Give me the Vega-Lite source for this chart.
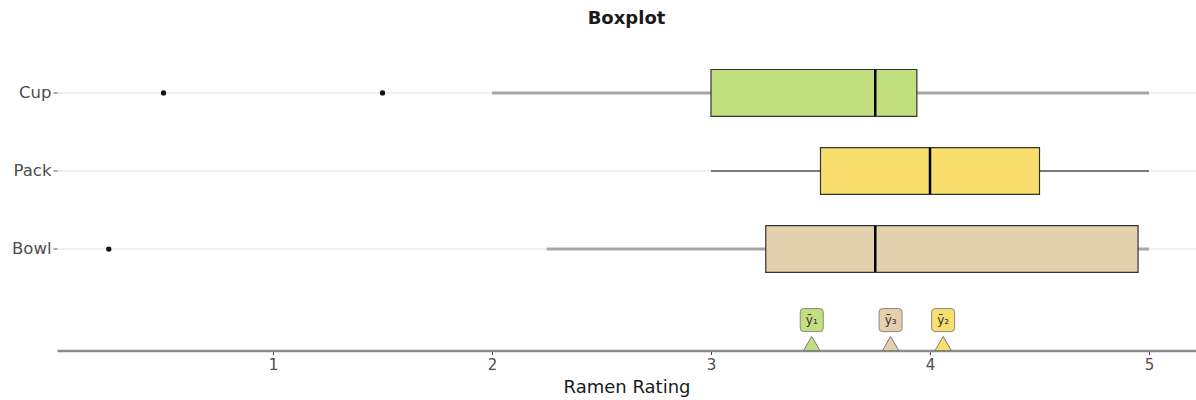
{
  "$schema": "https://vega.github.io/schema/vega-lite/v6.json",
  "width": 1139,
  "height": 281,
  "autosize": {"type": "none"},
  "padding": {"left": 57, "right": 0, "top": 69.5, "bottom": 49.5},
  "background": "white",
  "config": {
    "font": "DejaVu Sans",
    "view": {"stroke": null},
    "axis": {"labelFont": "DejaVu Sans", "titleFont": "DejaVu Sans"}
  },
  "title": {"text": "Boxplot", "font": "DejaVu Sans", "fontSize": 18, "fontWeight": "bold", "color": "#1a1a1a", "anchor": "middle", "offset": 41},
  "datasets": {
    "stats": [
      {"type": "Cup", "lower": 2.0, "q1": 3.0, "median": 3.75, "q3": 3.94, "upper": 5.0, "mean": 3.46, "label": "ȳ₁"},
      {"type": "Pack", "lower": 3.0, "q1": 3.5, "median": 4.0, "q3": 4.5, "upper": 5.0, "mean": 4.06, "label": "ȳ₂"},
      {"type": "Bowl", "lower": 2.25, "q1": 3.25, "median": 3.75, "q3": 4.95, "upper": 5.0, "mean": 3.82, "label": "ȳ₃"}
    ],
    "outliers": [
      {"type": "Cup", "rating": 0.5},
      {"type": "Cup", "rating": 1.5},
      {"type": "Bowl", "rating": 0.25}
    ]
  },
  "encoding": {
    "y": {
      "field": "type", "type": "nominal",
      "scale": {"domain": ["Cup", "Pack", "Bowl", "mean"], "paddingInner": 0.4, "paddingOuter": 0},
      "axis": {
        "title": null, "values": ["Cup", "Pack", "Bowl"], "bandPosition": 0.5,
        "domain": false, "grid": true, "gridColor": "#EBEBEB", "gridWidth": 1.5,
        "tickColor": "#555555", "tickSize": 4, "tickWidth": 1,
        "labelColor": "#4D4D4D", "labelFontSize": 16.5, "labelPadding": 2
      }
    },
    "x": {
      "type": "quantitative",
      "scale": {"domain": [0.0137, 5.2146], "nice": false, "zero": false},
      "axis": {
        "title": "Ramen Rating", "titleFontSize": 18, "titleFontWeight": "normal", "titleColor": "#1a1a1a", "titlePadding": 6,
        "values": [1, 2, 3, 4, 5], "grid": false,
        "domainColor": "#8C8C8C", "domainWidth": 2.5,
        "tickColor": "#444444", "tickSize": 4, "tickWidth": 1,
        "labelColor": "#4D4D4D", "labelFontSize": 15, "labelPadding": 3
      }
    }
  },
  "layer": [
    {
      "data": {"name": "stats"},
      "mark": {"type": "rule"},
      "encoding": {
        "x": {"field": "lower", "type": "quantitative"},
        "x2": {"field": "upper"},
        "color": {"condition": {"test": "datum.type === 'Pack'", "value": "#555555"}, "value": "#A6A6A6"},
        "strokeWidth": {"condition": {"test": "datum.type === 'Pack'", "value": 1.5}, "value": 3}
      }
    },
    {
      "data": {"name": "stats"},
      "mark": {"type": "bar", "stroke": "#333333", "strokeWidth": 1.2},
      "encoding": {
        "x": {"field": "q1", "type": "quantitative"},
        "x2": {"field": "q3"},
        "fill": {"field": "type", "type": "nominal", "legend": null,
          "scale": {"domain": ["Cup", "Pack", "Bowl"], "range": ["#C2DF80", "#F9DF6E", "#E5D0AE"]}}
      }
    },
    {
      "data": {"name": "stats"},
      "mark": {"type": "tick", "color": "#000000", "thickness": 2.5, "size": 46, "opacity": 1},
      "encoding": {
        "x": {"field": "median", "type": "quantitative"}
      }
    },
    {
      "data": {"name": "outliers"},
      "mark": {"type": "point", "filled": true, "color": "#111111", "size": 28, "opacity": 1},
      "encoding": {
        "x": {"field": "rating", "type": "quantitative"}
      }
    },
    {
      "data": {"name": "stats"},
      "mark": {"type": "point", "shape": "triangle-up", "filled": true, "size": 270, "yOffset": 16.5, "stroke": "#777777", "strokeWidth": 1, "opacity": 1},
      "encoding": {
        "x": {"field": "mean", "type": "quantitative"},
        "y": {"datum": "mean"},
        "fill": {"field": "type", "type": "nominal", "legend": null}
      }
    },
    {
      "data": {"name": "stats"},
      "mark": {"type": "point", "shape": "M-1,-0.7Q-1,-1,-0.7,-1L0.7,-1Q1,-1,1,-0.7L1,0.7Q1,1,0.7,1L-0.7,1Q-1,1,-1,0.7Z", "filled": true, "size": 530, "yOffset": -7, "stroke": "#888888", "strokeWidth": 1, "opacity": 1},
      "encoding": {
        "x": {"field": "mean", "type": "quantitative"},
        "y": {"datum": "mean"},
        "fill": {"field": "type", "type": "nominal", "legend": null}
      }
    },
    {
      "data": {"name": "stats"},
      "mark": {"type": "text", "font": "DejaVu Sans", "fontSize": 12, "color": "#333333", "yOffset": -7, "baseline": "middle", "align": "center"},
      "encoding": {
        "x": {"field": "mean", "type": "quantitative"},
        "y": {"datum": "mean"},
        "text": {"field": "label"}
      }
    }
  ]
}
